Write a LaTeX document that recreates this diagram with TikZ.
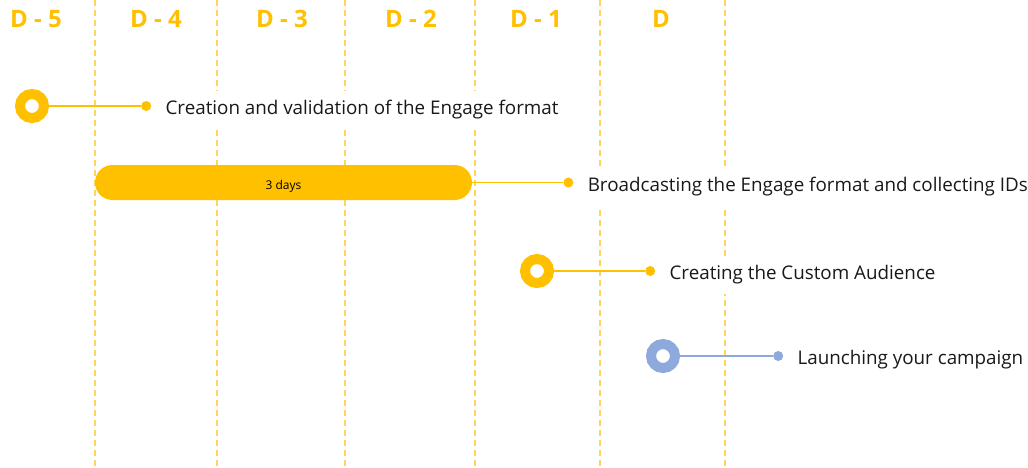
\documentclass[tikz,border=0pt]{standalone}
\usepackage{fontspec}
\setmainfont{Open Sans}
\usetikzlibrary{positioning}
\definecolor{amber}{RGB}{255, 192, 0}
\definecolor{sunflower}{RGB}{255, 214, 90}
\definecolor{cornflower}{RGB}{142, 169, 219}

\begin{document}
\begin{tikzpicture}[x=1pt, y=-1pt,
        dayline/.style={sunflower, line width=1.4pt, dash pattern=on 6pt off 4pt},
        daylabel/.style={font=\bfseries\fontsize{24}{28}\selectfont, text=amber},
        ring/.style={circle, draw=#1, line width=10pt, fill=white, minimum size=24pt, inner sep=0pt},
        dot/.style={circle, fill=#1, minimum size=10pt, inner sep=0pt},
        link/.style={#1, line width=1.5pt},
        task/.style={fill=white, anchor=west, inner xsep=2pt, inner ysep=10pt, yshift=-4pt,
                     font=\fontsize{18.8}{22}\selectfont, text=black!90}]
    \useasboundingbox (0,0) rectangle (1028,467);

    % day columns
    \foreach \x [count=\i] in {95, 217, 345, 475, 600, 725} {
        \coordinate (t\i) at (\x, 0);
        \coordinate (b\i) at (\x, 467);
        \draw[dayline] (t\i) -- (b\i);
    }
    \foreach \x/\d in {36/D - 5, 156/D - 4, 282/D - 3, 411/D - 2, 536/D - 1, 661/D}
        \node[daylabel] at (\x, 19) {\d};

    % step 1
    \node[ring=amber]    (r1) at (32, 106) {};
    \node[dot=amber, right=92pt of r1]   (d1) {};
    \draw[link=amber] (r1) -- (d1);
    \node[task, right=12pt of d1] (s1) {Creation and validation of the Engage format};

    % step 2 (three days)
    \node[fill=amber, rounded corners=17.5pt, minimum width=377pt, minimum height=35pt,
          text height=14pt, text depth=0pt,
          font=\fontsize{12}{14}\selectfont] (bar) at (283.5, 182.5) {3 days};
    \node[dot=amber, right=91pt of bar]  (d2) {};
    \draw[link=amber] (bar) -- (d2);
    \node[task, right=12pt of d2] (s2) {Broadcasting the Engage format and collecting IDs};

    % step 3
    \node[ring=amber]    (r3) at (537, 271) {};
    \node[dot=amber, right=91pt of r3]   (d3) {};
    \draw[link=amber] (r3) -- (d3);
    \node[task, right=12pt of d3] (s3) {Creating the Custom Audience};

    % step 4
    \node[ring=cornflower] (r4) at (663, 356) {};
    \node[dot=cornflower, right=93pt of r4] (d4) {};
    \draw[link=cornflower] (r4) -- (d4);
    \node[task, right=12pt of d4] (s4) {Launching your campaign};
\end{tikzpicture}
\end{document}
